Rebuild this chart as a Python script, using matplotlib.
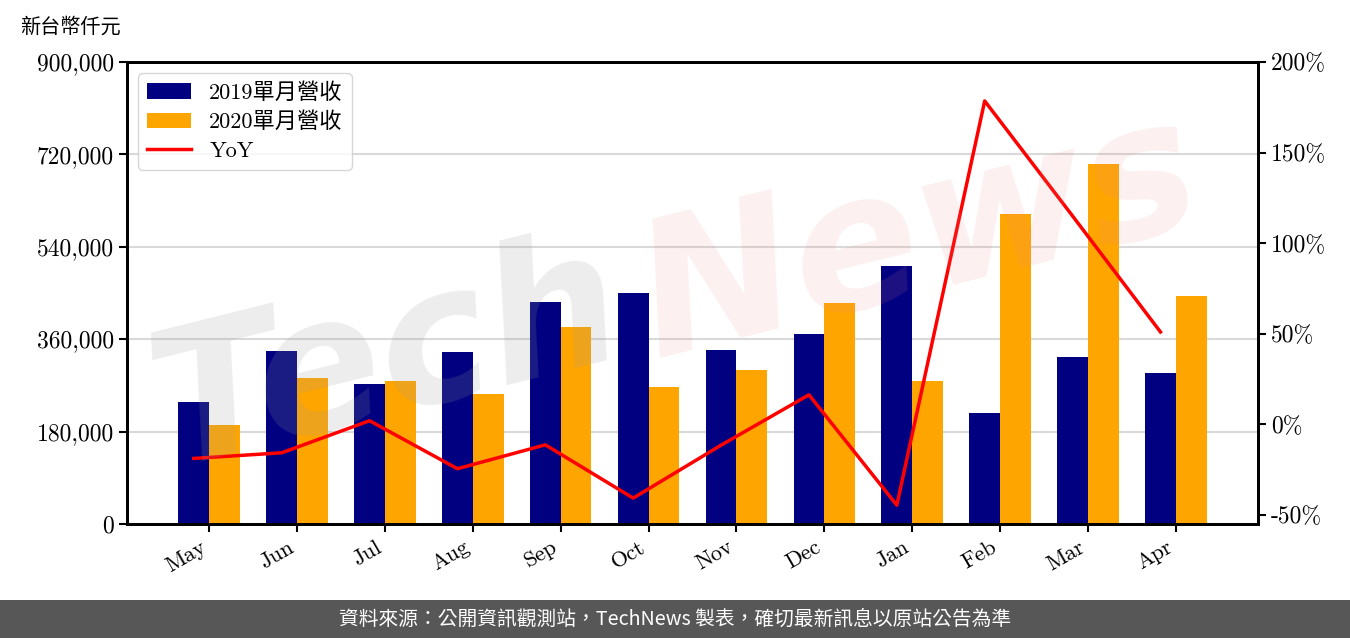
import matplotlib
matplotlib.use("Agg")
import matplotlib.pyplot as plt
from matplotlib.ticker import FuncFormatter, FixedLocator
import matplotlib.patches as mpatches
import numpy as np

months = ["May", "Jun", "Jul", "Aug", "Sep", "Oct", "Nov", "Dec", "Jan", "Feb", "Mar", "Apr"]
rev_2019 = [237700, 337000, 272700, 335100, 432500, 450000, 339000, 370100, 502600, 216200, 325300, 294200]
rev_2020 = [192900, 284400, 278600, 253200, 383800, 266900, 300000, 430500, 278600, 603900, 701300, 444200]
yoy = [-18.8, -15.7, 2.0, -24.5, -11.3, -40.7, -11.5, 16.3, -44.6, 178.5, 115.0, 51.0]
left_ticks = [0, 180000, 360000, 540000, 720000, 900000]
right_ticks = [-50, 0, 50, 100, 150, 200]
label_2019 = "2019單月營收"
label_2020 = "2020單月營收"
label_yoy = "YoY"
unit_label = "新台幣仟元"
footer = "資料來源：公開資訊觀測站，TechNews 製表，確切最新訊息以原站公告為準"

FAM = ["cmr10", "Noto Sans CJK TC", "DejaVu Sans"]
plt.rcParams["font.family"] = FAM
plt.rcParams["axes.unicode_minus"] = False
FS_Y = 17
FS_X = 16
FS_L = 16

fig = plt.figure(figsize=(13.5, 6.38), dpi=100)
ax = fig.add_axes([127 / 1350, 1 - 524 / 638, (1258 - 127) / 1350, (524 - 62) / 638])
ax.set_axisbelow(True)

x = np.arange(len(months))
w = 0.35
b1 = ax.bar(x - w / 2, rev_2019, w, color="#000080", label=label_2019, zorder=2)
b2 = ax.bar(x + w / 2, rev_2020, w, color="#FFA500", label=label_2020, zorder=2)

ax.set_ylim(0, 900000)
ax.yaxis.set_major_locator(FixedLocator(left_ticks))
ax.yaxis.set_major_formatter(FuncFormatter(lambda v, p: f"{int(v):,}"))
ax.grid(axis="y", color="#d9d9d9", linewidth=1.5, zorder=0)
ax.set_xticks(x)
ax.set_xticklabels(months, rotation=30, ha="right", fontsize=FS_X)
ax.tick_params(axis="y", labelsize=FS_Y, length=6, width=1.5)
ax.tick_params(axis="x", length=6, width=1.5)
for s in ax.spines.values():
    s.set_linewidth(2)

ax2 = ax.twinx()
ln, = ax2.plot(x - w / 2, yoy, color="red", linewidth=2.5, label=label_yoy, zorder=3)
ax2.set_ylim(-55, 200)
ax2.yaxis.set_major_locator(FixedLocator(right_ticks))
ax2.yaxis.set_major_formatter(FuncFormatter(lambda v, p: f"{int(v)}%"))
ax2.tick_params(axis="y", labelsize=FS_Y, length=6, width=1.5)
for s in ax2.spines.values():
    s.set_linewidth(2)

leg = ax2.legend([b1, b2, ln], [label_2019, label_2020, label_yoy], loc="upper left",
                 fontsize=FS_L, frameon=True, fancybox=True, edgecolor="#cccccc",
                 labelspacing=0.4)

# watermark
fig.text(0.10, 0.27, "Tech", fontsize=135, color="#9a9a9a", alpha=0.18, rotation=14,
         family="DejaVu Sans", fontstyle="italic", fontweight="bold", zorder=10)
fig.text(0.46, 0.44, "News", fontsize=135, color="#e88a8a", alpha=0.13, rotation=14,
         family="DejaVu Sans", fontstyle="italic", fontweight="bold", zorder=10)

fig.text(20 / 1350, 1 - 27 / 638, unit_label, fontsize=14.5, va="center", ha="left",
         family=["Noto Sans CJK TC"])

fig.patches.append(mpatches.Rectangle((0, 0), 1, 38 / 638, transform=fig.transFigure,
                                      facecolor="#575757", edgecolor="none", zorder=0))
fig.text(0.5, 19 / 638, footer, color="white", fontsize=14.2, ha="center", va="center",
         family=["Noto Sans CJK TC", "DejaVu Sans"])

fig.savefig("out.png", dpi=100)
